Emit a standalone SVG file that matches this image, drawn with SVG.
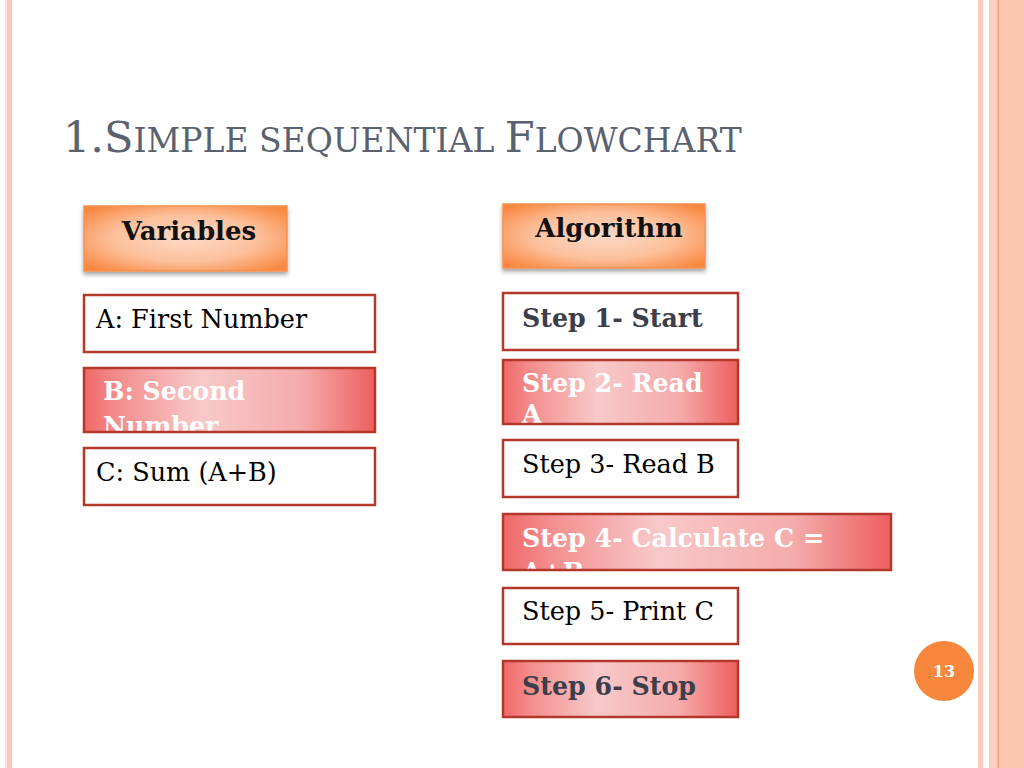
<svg xmlns="http://www.w3.org/2000/svg" width="1024" height="768" viewBox="0 0 1024 768">
<defs>
<radialGradient id="og" cx="50%" cy="50%" r="65%">
<stop offset="0" stop-color="#fed9c6"/>
<stop offset="0.55" stop-color="#fcc09c"/>
<stop offset="1" stop-color="#f9873f"/>
</radialGradient>
<linearGradient id="rg" x1="0" y1="0" x2="1" y2="0">
<stop offset="0" stop-color="#f06868"/>
<stop offset="0.12" stop-color="#f48e8e"/>
<stop offset="0.4" stop-color="#f8c9c9"/>
<stop offset="0.75" stop-color="#f5abab"/>
<stop offset="1" stop-color="#ee5f5f"/>
</linearGradient>
<filter id="sh" x="-10%" y="-10%" width="120%" height="140%">
<feDropShadow dx="0" dy="3" stdDeviation="2" flood-color="#000" flood-opacity="0.35"/>
</filter>
</defs>
<style>
.hdr{fill:url(#og);stroke:#f7924f;stroke-width:1.5;filter:url(#sh)}
.red{fill:url(#rg)}
.wb{fill:#fff}
.bd{fill:none;stroke:#b2382c;stroke-width:2.5}
.t{font-family:"DejaVu Serif","Liberation Serif",serif;font-size:25.5px;fill:#000}
.b{font-family:"DejaVu Serif","Liberation Serif",serif;font-size:25.3px;font-weight:bold}
.h{font-family:"DejaVu Serif","Liberation Serif",serif;font-size:26px;font-weight:bold;fill:#111}
.w{fill:#fff}
.g{fill:#3c3f4b}
.title{font-family:"DejaVu Serif","Liberation Serif",serif;fill:#5a6270}
</style>
<rect width="1024" height="768" fill="#fff"/>
<g id="frame">
<rect x="5" y="0" width="2" height="768" fill="#f8e3d5"/>
<rect x="7" y="0" width="5" height="768" fill="#fcc6b8"/>
<rect x="978" y="0" width="5" height="768" fill="#fccbbd"/>
<rect x="989" y="0" width="35" height="768" fill="#fdc6b0"/>
<rect x="989" y="0" width="8" height="768" fill="#fdd0be"/>
<rect x="997.5" y="0" width="1.5" height="768" fill="#e9a082"/>
</g>
<text class="title" x="63" y="152"><tspan font-size="43">1.S</tspan><tspan font-size="33">IMPLE SEQUENTIAL </tspan><tspan font-size="43">F</tspan><tspan font-size="33">LOWCHART</tspan></text>
<g id="variables">
<rect class="hdr" x="84" y="206" width="203" height="65"/>
<text class="h" x="189" y="240" text-anchor="middle">Variables</text>
</g>
<g id="varA">
<rect class="wb" x="84" y="295" width="291" height="57"/>
<text class="t" x="96" y="328">A: First Number</text>
<rect class="bd" x="84" y="295" width="291" height="57"/>
</g>
<g id="varB">
<rect class="red" x="84" y="368" width="291" height="64"/>
<text class="b w" x="103" y="400">B: Second</text>
<text class="b w" x="103" y="435">Number</text>
<rect class="bd" x="84" y="368" width="291" height="64"/>
</g>
<g id="varC">
<rect class="wb" x="84" y="448" width="291" height="57"/>
<text class="t" x="96" y="481">C: Sum (A+B)</text>
<rect class="bd" x="84" y="448" width="291" height="57"/>
</g>
<g id="algorithm">
<rect class="hdr" x="503" y="204" width="202" height="64"/>
<text class="h" x="609" y="237" text-anchor="middle">Algorithm</text>
</g>
<g id="step1">
<rect class="wb" x="503" y="293" width="235" height="57"/>
<text class="b g" x="522" y="327">Step 1- Start</text>
<rect class="bd" x="503" y="293" width="235" height="57"/>
</g>
<g id="step2">
<rect class="red" x="503" y="360" width="235" height="64"/>
<text class="b w" x="522" y="392">Step 2- Read</text>
<text class="b w" x="522" y="423">A</text>
<rect class="bd" x="503" y="360" width="235" height="64"/>
</g>
<g id="step3">
<rect class="wb" x="503" y="440" width="235" height="57"/>
<text class="t" x="522" y="473">Step 3- Read B</text>
<rect class="bd" x="503" y="440" width="235" height="57"/>
</g>
<g id="step4">
<rect class="red" x="503" y="514" width="388" height="56"/>
<text class="b w" x="522" y="547">Step 4- Calculate C =</text>
<text class="b w" x="522" y="581">A+B</text>
<rect class="bd" x="503" y="514" width="388" height="56"/>
</g>
<g id="step5">
<rect class="wb" x="503" y="588" width="235" height="56"/>
<text class="t" x="522" y="620">Step 5- Print C</text>
<rect class="bd" x="503" y="588" width="235" height="56"/>
</g>
<g id="step6">
<rect class="red" x="503" y="661" width="235" height="56"/>
<text class="b g" x="522" y="695">Step 6- Stop</text>
<rect class="bd" x="503" y="661" width="235" height="56"/>
</g>
<g id="connectors"></g>
<g id="page">
<circle cx="944" cy="671" r="30" fill="#f6873d"/>
<text x="944" y="677" text-anchor="middle" font-family="DejaVu Serif, Liberation Serif, serif" font-size="16" font-weight="bold" fill="#fff">13</text>
</g>
</svg>
